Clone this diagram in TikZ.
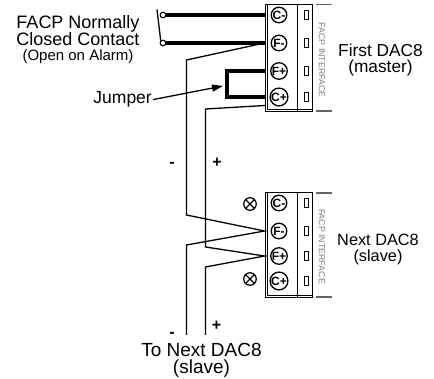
\documentclass[tikz,border=0pt]{standalone}
\usepackage{fontspec}
\setmainfont{Liberation Sans}
\usetikzlibrary{arrows.meta}
\definecolor{ifgrey}{RGB}{125,125,125}
\definecolor{capgrey}{RGB}{100,100,100}
\tikzset{
  thickwire/.style={line width=3.1pt, line join=miter},
  thinwire/.style={line width=1.3pt, line join=miter},
  blk/.style={draw, line width=0.9pt, inner sep=0pt, minimum width=47pt},
  term/.style={circle, draw, line width=1.3pt, minimum size=15.5pt, inner sep=0pt,
    font=\bfseries\fontsize{12}{12}\selectfont},
  xterm/.style={circle, draw, line width=1.2pt, minimum size=12.5pt, inner sep=0pt,
    path picture={\draw[line width=1.2pt]
      (path picture bounding box.north west) -- (path picture bounding box.south east)
      (path picture bounding box.north east) -- (path picture bounding box.south west);}},
  contact/.style={circle, draw, fill=white, line width=1pt, minimum size=5.5pt, inner sep=0pt},
  lbl/.style={align=center, inner sep=0pt, font=\fontsize{17.5}{16}\selectfont},
  iface/.style={rotate=-90, inner sep=0pt, text=ifgrey, font=\fontsize{8.8}{9}\selectfont},
  sign/.style={inner sep=0pt, font=\bfseries\fontsize{16}{16}\selectfont},
  pad/.style={line width=0.8pt},
  ifcap/.style={line width=1.8pt, draw=capgrey}
}
\begin{document}
\begin{tikzpicture}[x=1pt,y=-1pt]
\useasboundingbox (0,0) rectangle (434,379);

% ---------- blocks ----------
\node[blk, minimum height=107.7pt] (b1) at (288.5,57.85) {};
\node[blk, minimum height=105pt] (b2) at (288.5,245) {};
\foreach \b in {b1,b2}{
  \draw[line width=0.9pt] ([xshift=2.6pt]\b.north west) -- ([xshift=2.6pt,yshift=2.4pt]\b.south west) -- ([yshift=2.4pt]\b.south east);
  \draw[line width=0.9pt] ([xshift=33pt]\b.north west) -- ([xshift=33pt]\b.south west);
  \draw[ifcap] ([xshift=3.5pt,yshift=-0.9pt]\b.north east) -- ++(16.5,0);
  \draw[ifcap] ([xshift=3.5pt,yshift=0.9pt]\b.south east) -- ++(16.5,0);
}
\node[iface] (if1) at (322,60) {FACP INTERFACE};
\node[iface] (if2) at (322,246.5) {FACP INTERFACE};

% ---------- terminals ----------
\node[term] (t1cm) at (279,15) {C-};
\node[term] (t1fm) at (279,43) {F-};
\node[term] (t1fp) at (279,71) {F+};
\node[term] (t1cp) at (279,97) {C+};
\node[term] (t2cm) at (279,203) {C-};
\node[term] (t2fm) at (279,231) {F-};
\node[term] (t2fp) at (279,256) {F+};
\node[term] (t2cp) at (279,281) {C+};
\foreach \y in {15,43,71,97,203,231,256,281}{
  \draw[pad] (304,\y-4.5) rectangle (308.2,\y+4.5);
}
\node[xterm] (x1) at (250,204) {};
\node[xterm] (x2) at (250,279) {};

% ---------- coordinates ----------
\coordinate (blade) at (157,9.5);
\coordinate (jcorner) at (227,83);
\coordinate (jtip) at (223,86);
\coordinate (m1) at (186.5,60);
\coordinate (m2) at (186.5,215);
\coordinate (m3) at (186.5,245);
\coordinate (m4) at (186.5,335);
\coordinate (p0) at (265,105.5);
\coordinate (p1) at (205.5,109);
\coordinate (p2) at (205.5,247);
\coordinate (p3) at (205.5,267);
\coordinate (p4) at (205.5,335);

% ---------- wiring ----------
\node[contact] (sw1) at (163,15) {};
\node[contact] (sw2) at (163,43) {};
\draw[thickwire] (sw1.east) -- (b1.west |- t1cm);
\draw[thickwire] (sw2.east) -- (b1.west |- t1fm);
\draw[thinwire] (blade) -- (sw2.north west);
\node[contact] at (sw1) {};
\node[contact] at (sw2) {};

\draw[thickwire] (b1.west |- t1fp) -| (jcorner) |- (b1.west |- t1cp);

\draw[thinwire] (b1.west |- t1fm) -- (m1) -- (m2) -- (b2.west |- t2fm) -- (m3) -- (m4);
\draw[thinwire] (p0) -- (p1) -- (p2) -- (b2.west |- t2fp) -- (p3) -- (p4);

% ---------- labels ----------
\node[lbl, font=\fontsize{18}{16}\selectfont] (facp) at (78,39.5) {FACP Normally\\Closed Contact\\[-1pt]{\fontsize{15}{15}\selectfont (Open on Alarm)}};
\node[lbl, anchor=east, inner sep=1pt] (jumper) at (153,99.6) {Jumper};
\draw[thinwire, -{Triangle[length=11pt,width=7pt]}] (jumper.east) -- (jtip);
\node[lbl, font=\fontsize{17.3}{16}\selectfont] (first) at (380.5,60) {First DAC8\\(master)};
\node[lbl, font=\fontsize{16.3}{16}\selectfont] (next) at (378,249.5) {Next DAC8\\(slave)};
\node[lbl, font=\fontsize{19}{17.5}\selectfont] (tonext) at (201.5,360.3) {To Next DAC8\\(slave)};

\node[sign] (s1) at (172,165) {-};
\node[sign] (s2) at (217,163) {+};
\node[sign] (s3) at (172,335) {-};
\node[sign] (s4) at (216.5,326) {+};
\end{tikzpicture}
\end{document}
